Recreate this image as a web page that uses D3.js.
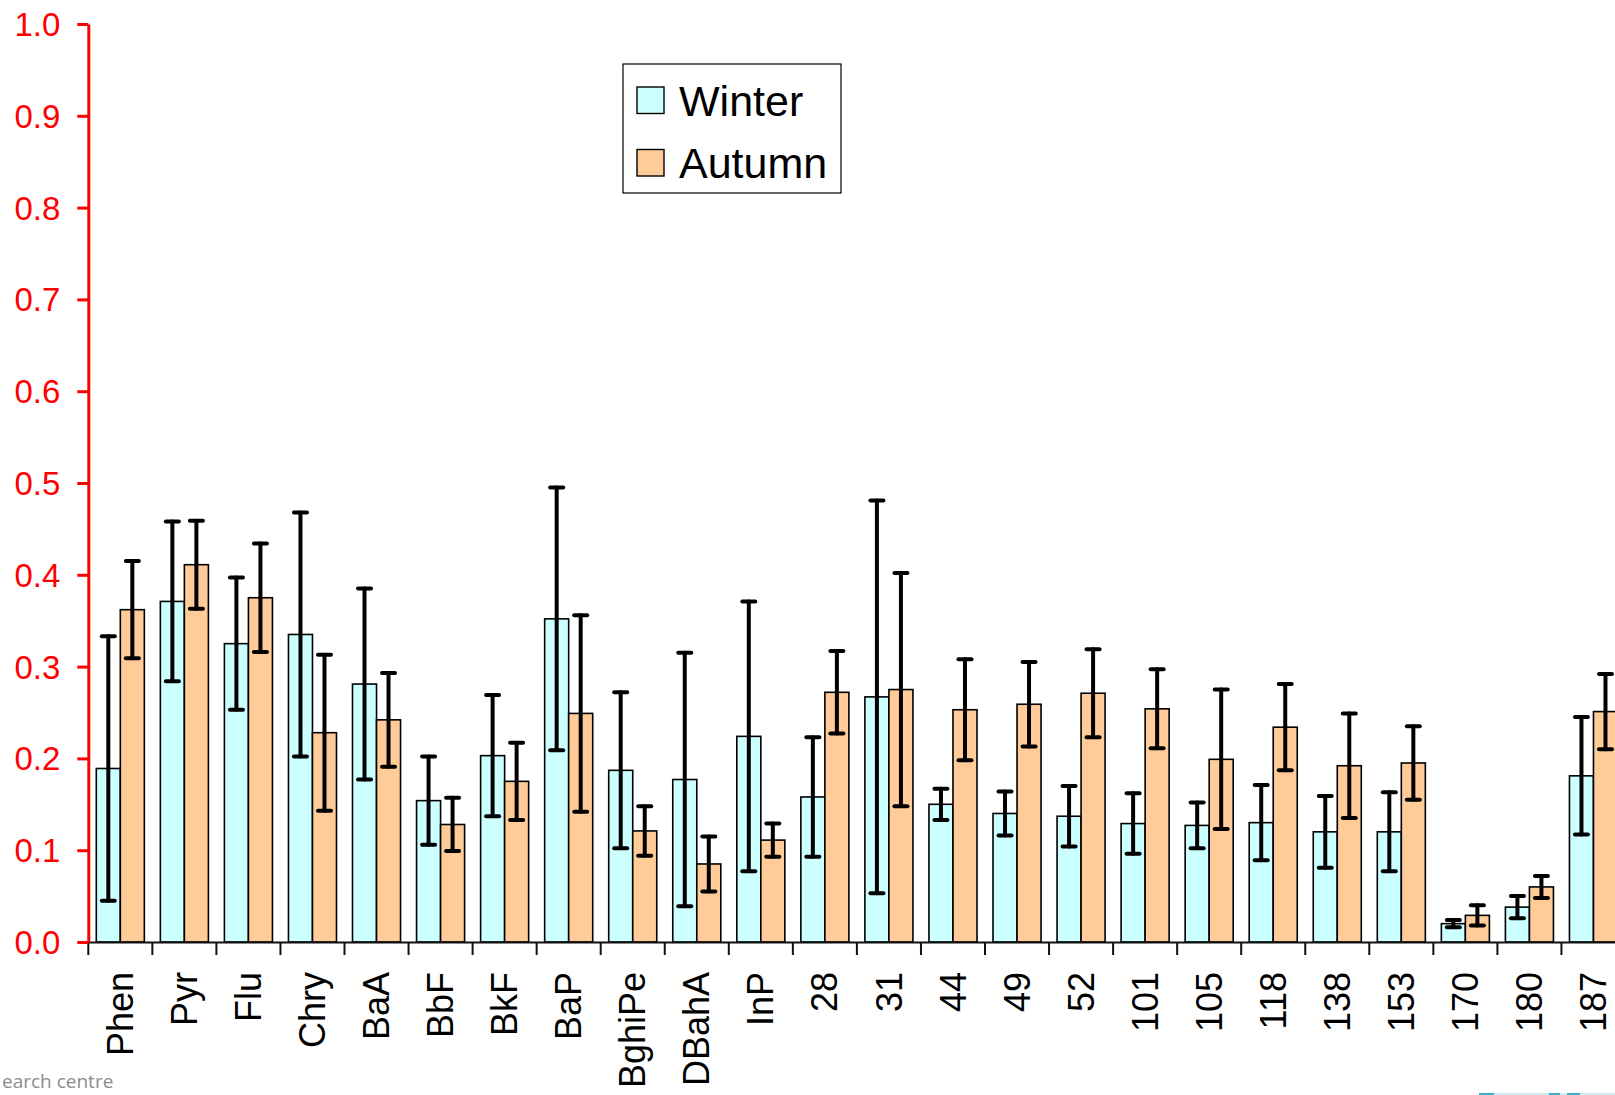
<!DOCTYPE html>
<html>
<head>
<meta charset="utf-8">
<script src="https://cdn.jsdelivr.net/npm/d3@7"></script>
<style>
  html, body { margin: 0; padding: 0; background: #fff; overflow: hidden; }
  svg { display: block; }
</style>
</head>
<body>
<svg id="chart" width="1615" height="1095"></svg>
<script>
// Congener / compound labels along the x axis
const categories = ["Phen", "Pyr", "Flu", "Chry", "BaA", "BbF", "BkF", "BaP", "BghiPe", "DBahA", "InP",
  "28", "31", "44", "49", "52", "101", "105", "118", "138", "153", "170", "180", "187"];

// Mean values per season
const winter = [0.189, 0.371, 0.325, 0.335, 0.281, 0.154, 0.203, 0.352, 0.187, 0.177, 0.224,
  0.158, 0.267, 0.150, 0.140, 0.137, 0.129, 0.127, 0.130, 0.120, 0.120, 0.020, 0.038, 0.181];
const autumn = [0.362, 0.411, 0.375, 0.228, 0.242, 0.128, 0.175, 0.249, 0.121, 0.085, 0.111,
  0.272, 0.275, 0.253, 0.259, 0.271, 0.254, 0.199, 0.234, 0.192, 0.195, 0.029, 0.060, 0.251];

// Standard deviations (error bars)
const winterSd = [0.144, 0.087, 0.072, 0.133, 0.104, 0.048, 0.066, 0.143, 0.085, 0.138, 0.147,
  0.065, 0.214, 0.017, 0.024, 0.033, 0.033, 0.025, 0.041, 0.039, 0.043, 0.004, 0.012, 0.064];
const autumnSd = [0.053, 0.048, 0.059, 0.085, 0.051, 0.029, 0.042, 0.107, 0.027, 0.030, 0.018,
  0.045, 0.127, 0.055, 0.046, 0.048, 0.043, 0.076, 0.047, 0.057, 0.040, 0.011, 0.012, 0.041];

const seriesNames = ["Winter", "Autumn"];
const seriesColors = ["#CCFFFF", "#FFCC99"];
const yTicks = [0, 0.1, 0.2, 0.3, 0.4, 0.5, 0.6, 0.7, 0.8, 0.9, 1.0];

const svg = d3.select("#chart");
const font = "Arial, 'Liberation Sans', Helvetica, sans-serif";

const left = 88.3, step = 64.05, baseY = 942, topY = 24;

const x = d3.scaleBand().domain(categories)
  .range([left, left + step * categories.length])
  .paddingInner(0).paddingOuter(0);
const xs = d3.scaleBand().domain(seriesNames)
  .range([0, x.bandwidth()]).paddingInner(0).paddingOuter(1 / 3);
const y = d3.scaleLinear().domain([0, 1]).range([baseY, topY]);

const rows = categories.map((c, i) => ({
  cat: c,
  vals: [
    { s: "Winter", v: winter[i], sd: winterSd[i], color: seriesColors[0] },
    { s: "Autumn", v: autumn[i], sd: autumnSd[i], color: seriesColors[1] }
  ]
}));

// Bars
const groups = svg.append("g").selectAll("g").data(rows).join("g")
  .attr("transform", d => `translate(${x(d.cat)},0)`);

groups.selectAll("rect").data(d => d.vals).join("rect")
  .attr("x", d => xs(d.s))
  .attr("y", d => y(d.v))
  .attr("width", xs.bandwidth())
  .attr("height", d => y(0) - y(d.v))
  .attr("fill", d => d.color)
  .attr("stroke", "#000")
  .attr("stroke-width", 1.6);

// Error bars drawn over all bars
const errs = svg.append("g").selectAll("g").data(rows).join("g")
  .attr("transform", d => `translate(${x(d.cat)},0)`)
  .selectAll("g").data(d => d.vals).join("g")
  .attr("transform", d => `translate(${xs(d.s) + xs.bandwidth() / 2},0)`)
  .attr("stroke", "#000").attr("stroke-width", 4).attr("stroke-linecap", "round");

errs.append("line")
  .attr("x1", 0).attr("x2", 0)
  .attr("y1", d => y(d.v + d.sd)).attr("y2", d => y(d.v - d.sd));
errs.append("line")
  .attr("x1", -6.5).attr("x2", 6.5)
  .attr("y1", d => y(d.v + d.sd)).attr("y2", d => y(d.v + d.sd));
errs.append("line")
  .attr("x1", -6.5).attr("x2", 6.5)
  .attr("y1", d => y(d.v - d.sd)).attr("y2", d => y(d.v - d.sd));

// X axis: labels centred under each group, ticks between groups
const xAxis = svg.append("g")
  .attr("transform", `translate(0,${baseY})`)
  .call(d3.axisBottom(x).tickSize(0).tickSizeOuter(0));
xAxis.select(".domain").attr("stroke", "#111").attr("stroke-width", 2);
xAxis.selectAll(".tick text")
  .attr("transform", "rotate(-90)")
  .attr("text-anchor", "end")
  .attr("x", -30).attr("y", 0).attr("dy", "0.35em")
  .attr("font-family", font).attr("font-size", 36).attr("fill", "#000");

svg.append("g").selectAll("line")
  .data(categories.map(c => x(c)).concat([x.range()[1]]))
  .join("line")
  .attr("x1", d => d).attr("x2", d => d)
  .attr("y1", baseY).attr("y2", baseY + 13)
  .attr("stroke", "#111").attr("stroke-width", 2);

// Y axis in red
const yAxis = svg.append("g")
  .attr("transform", `translate(${left},0)`)
  .call(d3.axisLeft(y).tickValues(yTicks).tickFormat(d3.format(".1f"))
    .tickSize(11).tickSizeOuter(0).tickPadding(17));
yAxis.select(".domain").attr("stroke", "#FF0000").attr("stroke-width", 3);
yAxis.selectAll(".tick line").attr("stroke", "#FF0000").attr("stroke-width", 3);
yAxis.selectAll(".tick text")
  .attr("fill", "#FF0000").attr("font-family", font).attr("font-size", 33).attr("dy", "0.35em");

// Legend
const legend = svg.append("g");
legend.append("rect")
  .attr("x", 623).attr("y", 64).attr("width", 218).attr("height", 129)
  .attr("fill", "#fff").attr("stroke", "#000").attr("stroke-width", 1.2);
const legendItems = legend.selectAll("g.item").data(seriesNames).join("g")
  .attr("class", "item")
  .attr("transform", (d, i) => `translate(0,${i * 62.5})`);
legendItems.append("rect")
  .attr("x", 637).attr("y", 87).attr("width", 27).attr("height", 26.5)
  .attr("fill", (d, i) => seriesColors[i]).attr("stroke", "#000").attr("stroke-width", 1.4);
legendItems.append("text")
  .attr("x", 679).attr("y", 115.5)
  .attr("font-family", font).attr("font-size", 43).attr("fill", "#000")
  .text(d => d);

// Slide footer remnants
svg.append("text")
  .attr("x", 2).attr("y", 1088)
  .attr("font-family", "'Open Sans', 'Noto Sans', sans-serif").attr("font-size", 19)
  .attr("fill", "#8c8c8c")
  .text("earch centre");
const footerBar = svg.append("g");
footerBar.append("rect").attr("x", 1479).attr("y", 1093).attr("width", 136).attr("height", 2).attr("fill", "#cfeef3");
footerBar.append("rect").attr("x", 1479).attr("y", 1093).attr("width", 15).attr("height", 2).attr("fill", "#39aecb");
footerBar.append("rect").attr("x", 1549).attr("y", 1093).attr("width", 11).attr("height", 2).attr("fill", "#39aecb");
footerBar.append("rect").attr("x", 1567).attr("y", 1093).attr("width", 13).attr("height", 2).attr("fill", "#39aecb");
</script>
</body>
</html>
